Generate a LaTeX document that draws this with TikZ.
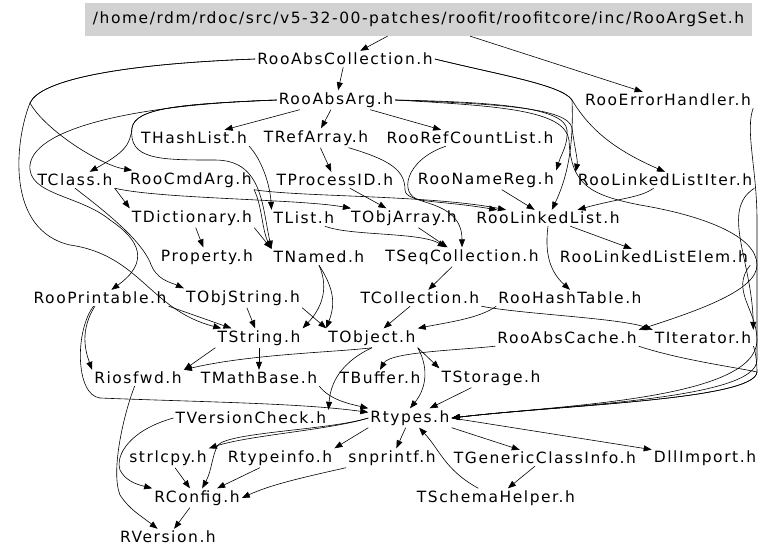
\documentclass[tikz,border=0pt]{standalone}
\usepackage{fontspec}
\newfontfamily\dxfont[LetterSpace=10]{DejaVu Sans}
\usetikzlibrary{arrows.meta}

\tikzset{
  file/.style={inner sep=2pt, font=\dxfont\fontsize{15.5}{16}\selectfont},
  rootfile/.style={file, fill=gray!35, minimum width=667pt, minimum height=33pt},
  dep/.style={-{Triangle[length=8pt,width=6pt]}, line width=0.6pt},
}

\begin{document}
\begin{tikzpicture}[x=1pt,y=-1pt]
\useasboundingbox (0,0) rectangle (768,558);

% files, row by row
\node[rootfile] (argset) at (418.5,19.5) {/home/rdm/rdoc/src/v5-32-00-patches/roofit/roofitcore/inc/RooArgSet.h};
\node[file] (abscoll) at (345,59) {RooAbsCollection.h};
\node[file] (absarg) at (336,100) {RooAbsArg.h};
\node[file] (errh) at (668,100) {RooErrorHandler.h};
\node[file] (hashlist) at (194,138) {THashList.h};
\node[file] (refarray) at (316,138) {TRefArray.h};
\node[file] (refcount) at (470,138) {RooRefCountList.h};
\node[file] (tclass) at (75,180) {TClass.h};
\node[file] (cmdarg) at (191,180) {RooCmdArg.h};
\node[file] (procid) at (335,180) {TProcessID.h};
\node[file] (namereg) at (486,180) {RooNameReg.h};
\node[file] (lliter) at (665,180) {RooLinkedListIter.h};
\node[file] (dict) at (192,218) {TDictionary.h};
\node[file] (tlist) at (304,218) {TList.h};
\node[file] (objarray) at (404,218) {TObjArray.h};
\node[file] (llist) at (548,218) {RooLinkedList.h};
\node[file] (property) at (207,257) {Property.h};
\node[file] (tnamed) at (319,257) {TNamed.h};
\node[file] (seqcoll) at (462,257) {TSeqCollection.h};
\node[file] (llelem) at (654,257) {RooLinkedListElem.h};
\node[file] (printable) at (100,298) {RooPrintable.h};
\node[file] (objstring) at (243,298) {TObjString.h};
\node[file] (tcollection) at (420,298) {TCollection.h};
\node[file] (hashtable) at (570,298) {RooHashTable.h};
\node[file] (tstring) at (259,338) {TString.h};
\node[file] (tobject) at (372,338) {TObject.h};
\node[file] (abscache) at (567,338) {RooAbsCache.h};
\node[file] (titerator) at (703,338) {TIterator.h};
\node[file] (riosfwd) at (138,378) {Riosfwd.h};
\node[file] (mathbase) at (259,378) {TMathBase.h};
\node[file] (tbuffer) at (380,378) {TBuffer.h};
\node[file] (tstorage) at (491,378) {TStorage.h};
\node[file] (verscheck) at (251,418) {TVersionCheck.h};
\node[file] (rtypes) at (410,418) {Rtypes.h};
\node[file] (strlcpy) at (168,458) {strlcpy.h};
\node[file] (rtypeinfo) at (280,458) {Rtypeinfo.h};
\node[file] (snprintf) at (392,458) {snprintf.h};
\node[file] (genclass) at (545,458) {TGenericClassInfo.h};
\node[file] (dllimport) at (705,458) {DllImport.h};
\node[file] (rconfig) at (197,498) {RConfig.h};
\node[file] (schema) at (496,498) {TSchemaHelper.h};
\node[file] (rversion) at (168,537) {RVersion.h};

% includes
\draw[dep] (argset) -- (abscoll);
\draw[dep] (argset) -- (errh);
\draw[dep] (abscoll) -- (absarg);
\draw[dep] (abscoll.west) .. controls (120,64) and (40,80) .. (30,103) .. controls (45,130) and (100,165) .. (cmdarg);
\draw[dep] (abscoll.west) .. controls (120,64) and (40,80) .. (30,103) .. controls (15,140) and (5,230) .. (70,245) .. controls (140,255) and (150,310) .. (tstring);
\draw[dep] (abscoll.east) .. controls (500,75) and (562,85) .. (572,100) .. controls (574,150) and (566,180) .. (llist);
\draw[dep] (abscoll.east) .. controls (500,75) and (562,85) .. (572,100) .. controls (590,130) and (615,150) .. (lliter.north);

\draw[dep] (absarg) -- (hashlist);
\draw[dep] (absarg) -- (refarray);
\draw[dep] (absarg) -- (refcount);
\draw[dep] (absarg.west) .. controls (150,104) and (35,125) .. (30,165) .. controls (27,195) and (80,195) .. (110,220) .. controls (140,240) and (150,262) .. (printable);
\draw[dep] (absarg.west) .. controls (180,104) and (135,108) .. (132,128) .. controls (130,145) and (125,152) .. (tclass);
\draw[dep] (absarg.west) .. controls (180,104) and (135,108) .. (132,128) .. controls (128,160) and (160,160) .. (215,160) .. controls (262,160) and (262,205) .. (tnamed.north west);
\draw[dep] (absarg.east) .. controls (500,102) and (565,108) .. (567,130) .. controls (568,145) and (562,152) .. (namereg.north east);
\draw[dep] (absarg.east) .. controls (500,104) and (568,108) .. (572,128) .. controls (575,150) and (578,160) .. (lliter.north west);
\draw[dep] (absarg.east) .. controls (500,106) and (565,110) .. (569,140) .. controls (571,185) and (590,195) .. (640,205) .. controls (700,215) and (757,235) .. (757,265) .. controls (757,290) and (700,310) .. (abscache.north east);

\draw[dep] (hashlist.south east) .. controls (262,160) and (270,185) .. (tlist.north west);
\draw[dep] (refarray) -- (procid);
\draw[dep] (refarray) .. controls (390,160) and (405,170) .. (405,190) .. controls (405,205) and (462,198) .. (seqcoll.north);
\draw[dep] (refcount) .. controls (405,160) and (398,195) .. (420,200) .. controls (440,203) and (455,203) .. (llist);

\draw[dep] (tclass.south east) -- (dict.north west);
\draw[dep] (tclass.south east) .. controls (160,199) and (300,199) .. (objarray);
\draw[dep] (tclass.south) .. controls (110,215) and (140,240) .. (150,262) .. controls (156,280) and (170,282) .. (objstring.north west);
\draw[dep] (cmdarg.south east) .. controls (300,197) and (430,195) .. (llist);
\draw[dep] (cmdarg.south east) .. controls (262,205) and (262,230) .. (tnamed.north west);
\draw[dep] (procid) -- (objarray);
\draw[dep] (namereg) -- (llist);
\draw[dep] (lliter) .. controls (640,198) and (620,198) .. (llist);
\draw[dep] (lliter.south east) .. controls (720,210) and (752,260) .. (titerator.north east);

\draw[dep] (dict) -- (property);
\draw[dep] (dict.south east) -- (tnamed.north west);
\draw[dep] (tlist) .. controls (350,236) and (420,232) .. (seqcoll);
\draw[dep] (objarray) -- (seqcoll);
\draw[dep] (llist) -- (llelem);
\draw[dep] (llist.south) .. controls (545,250) and (548,270) .. (hashtable.north);
\draw[dep] (seqcoll) -- (tcollection);

\draw[dep] (printable) .. controls (80,330) and (85,350) .. (riosfwd.north west);
\draw[dep] (printable) .. controls (75,330) and (75,395) .. (100,398) .. controls (200,402) and (300,403) .. (rtypes);
\draw[dep] (printable.south east) -- (tstring);
\draw[dep] (objstring) -- (tstring);
\draw[dep] (objstring.south east) -- (tobject.north west);
\draw[dep] (tnamed.south) .. controls (335,290) and (335,305) .. (tobject.north west);
\draw[dep] (tnamed.south) .. controls (330,290) and (320,310) .. (tstring.north east);
\draw[dep] (tcollection) -- (tobject);
\draw[dep] (tcollection.south east) .. controls (520,314) and (620,318) .. (titerator.north west);
\draw[dep] (hashtable.south west) .. controls (480,318) and (450,322) .. (tobject.north east);
\draw[dep] (llelem.south east) .. controls (730,290) and (757,310) .. (757,340) .. controls (757,400) and (560,405) .. (rtypes.east);

\draw[dep] (tobject.south) .. controls (340,352) and (250,354) .. (riosfwd.north east);
\draw[dep] (tstring.south west) -- (riosfwd.north east);
\draw[dep] (tstring) -- (mathbase);
\draw[dep] (abscache.south west) .. controls (460,350) and (390,352) .. (tbuffer.north);
\draw[dep] (tobject.south east) -- (tstorage.north west);
\draw[dep] (tobject.south) .. controls (335,365) and (330,390) .. (verscheck.north east);
\draw[dep] (tobject.south east) .. controls (430,370) and (425,390) .. (rtypes.north);
\draw[dep] (tstorage) -- (rtypes);
\draw[dep] (mathbase.south east) .. controls (330,400) and (350,404) .. (rtypes.north west);
\draw[dep] (errh.south east) .. controls (745,130) and (757,170) .. (757,220) -- (757,360) .. controls (757,400) and (560,405) .. (rtypes.east);
\draw[dep] (titerator.south east) .. controls (755,350) and (757,360) .. (757,372) .. controls (755,400) and (560,405) .. (rtypes.east);
\draw[dep] (abscache.south east) .. controls (680,360) and (740,368) .. (757,372) .. controls (755,400) and (560,405) .. (rtypes.east);

\draw[dep] (rtypes.west) .. controls (330,430) and (250,435) .. (strlcpy.north east);
\draw[dep] (rtypes.west) .. controls (330,430) and (230,432) .. (218,445) .. controls (212,455) and (212,470) .. (rconfig);
\draw[dep] (rtypes.south west) -- (rtypeinfo.north east);
\draw[dep] (rtypes) -- (snprintf);
\draw[dep] (rtypes.south east) -- (genclass);
\draw[dep] (rtypes.east) -- (dllimport);
\draw[dep] (verscheck.west) .. controls (130,430) and (115,455) .. (120,470) .. controls (125,480) and (135,484) .. (rconfig.north west);
\draw[dep] (riosfwd) .. controls (125,410) and (110,470) .. (120,495) .. controls (130,510) and (140,515) .. (rversion);
\draw[dep] (strlcpy) -- (rconfig);
\draw[dep] (rtypeinfo) -- (rconfig);
\draw[dep] (snprintf.south west) .. controls (300,478) and (270,485) .. (rconfig.east);
\draw[dep] (genclass) -- (schema);
\draw[dep] (schema) .. controls (445,470) and (440,450) .. (rtypes);
\draw[dep] (rconfig) -- (rversion);
\end{tikzpicture}
\end{document}
